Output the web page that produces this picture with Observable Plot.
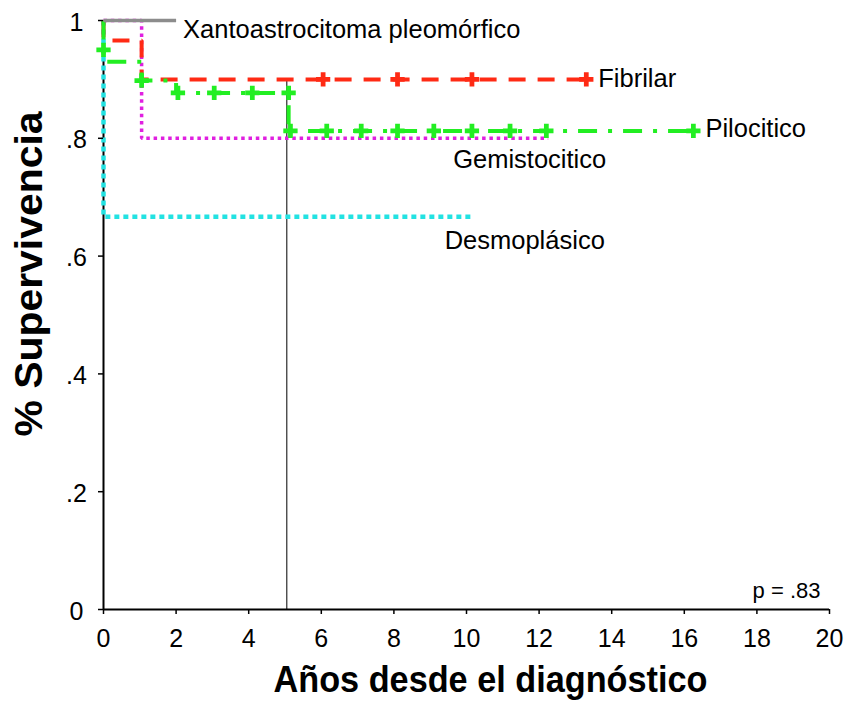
<!DOCTYPE html>
<html>
<head>
<meta charset="utf-8">
<script src="https://cdn.jsdelivr.net/npm/d3@7"></script>
<script src="https://cdn.jsdelivr.net/npm/@observablehq/plot@0.6"></script>
<style>
  html, body { margin: 0; padding: 0; background: #fff; }
  #chart { width: 852px; height: 702px; }
</style>
</head>
<body>
<div id="chart"></div>
<script>
// ---- Data ----
const seriesNames = ["Xantoastrocitoma pleomórfico", "Fibrilar", "Pilocitico", "Gemistocitico", "Desmoplásico"];

const xantoTime = [0, 2];
const xantoSurv = [1, 1];

const fibTime = [0, 0, 1.05, 13.3];
const fibSurv = [1, 0.966, 0.90, 0.90];
const fibCensTime = [6.05, 8.1, 10.15, 13.3];
const fibCensSurv = [0.90, 0.90, 0.90, 0.90];

const pilTime = [0, 0, 1.05, 2.0, 5.1, 16.25];
const pilSurv = [1, 0.93, 0.898, 0.877, 0.8125, 0.8125];
const pilCensTime = [0, 1.05, 2.05, 3.05, 4.1, 5.1, 5.15, 6.15, 7.1, 8.1, 9.1, 10.15, 11.2, 12.2, 16.25];
const pilCensSurv = [0.95, 0.898, 0.877, 0.877, 0.877, 0.877, 0.8125, 0.8125, 0.8125, 0.8125, 0.8125, 0.8125, 0.8125, 0.8125, 0.8125];

const gemTime = [0, 1.05, 12.25];
const gemSurv = [1, 0.8, 0.8];

const desTime = [0, 0, 10.17];
const desSurv = [1, 0.667, 0.667];

const refLineTime = [5.05];
const xTicks = [0, 2, 4, 6, 8, 10, 12, 14, 16, 18, 20];
const xTickLabels = ["0", "2", "4", "6", "8", "10", "12", "14", "16", "18", "20"];
const yTicks = [0, 0.2, 0.4, 0.6, 0.8, 1];
const yTickLabels = ["0", ".2", ".4", ".6", ".8", "1"];
const pValueText = "p = .83";
const xTitle = "Años desde el diagnóstico";
const yTitle = "% Supervivencia";

// ---- Build tables ----
const seriesData = [
  {name: seriesNames[4], t: desTime, s: desSurv, ct: [], cs: []},
  {name: seriesNames[3], t: gemTime, s: gemSurv, ct: [], cs: []},
  {name: seriesNames[1], t: fibTime, s: fibSurv, ct: fibCensTime, cs: fibCensSurv},
  {name: seriesNames[2], t: pilTime, s: pilSurv, ct: pilCensTime, cs: pilCensSurv},
  {name: seriesNames[0], t: xantoTime, s: xantoSurv, ct: [], cs: []}
];

// ---- Styles ----
const styles = {
  "Xantoastrocitoma pleomórfico": {color: "#8c8c8c", width: 3.5, dash: null, dx: 7, dy: 9, anchor: "start"},
  "Fibrilar": {color: "#ff2a14", width: 4, dash: "17,12", dx: 12, dy: -1, anchor: "start"},
  "Pilocitico": {color: "#22ee22", width: 4, dash: "19,11,4,11", dx: 12, dy: -2, anchor: "start"},
  "Gemistocitico": {color: "#e020e0", width: 3.5, dash: "3.5,3.8", dx: -95, dy: 22, anchor: "start"},
  "Desmoplásico": {color: "#22e2e2", width: 4.5, dash: "5,4", dx: -28, dy: 24, anchor: "start"}
};

const font = "'Liberation Sans', Arial, Helvetica, sans-serif";
const marks = [];

// axes lines
marks.push(Plot.ruleY([0], {stroke: "#000", strokeWidth: 2}));
marks.push(Plot.ruleX([0], {stroke: "#000", strokeWidth: 2}));

// reference line at 5 years
marks.push(Plot.ruleX(refLineTime, {y1: 0, y2: fibSurv[fibSurv.length - 1], stroke: "#000", strokeWidth: 1}));

for (const sd of seriesData) {
  const st = styles[sd.name];
  const rows = sd.t.map((t, i) => ({t, s: sd.s[i]}));
  marks.push(Plot.line(rows, {
    x: "t", y: "s", curve: "step-after",
    stroke: st.color, strokeWidth: st.width,
    strokeDasharray: st.dash || undefined,
    strokeLinecap: "butt", strokeLinejoin: "miter"
  }));
  if (sd.ct.length) {
    const cens = sd.ct.map((t, i) => ({t, s: sd.cs[i]}));
    marks.push(Plot.dot(cens, {x: "t", y: "s", symbol: "cross", r: 6, fill: st.color, stroke: "none"}));
  }
}

// series labels at the end of each curve
for (const sd of seriesData) {
  const st = styles[sd.name];
  const last = {t: sd.t[sd.t.length - 1], s: sd.s[sd.s.length - 1], name: sd.name};
  marks.push(Plot.text([last], {
    x: "t", y: "s", text: "name", dx: st.dx, dy: st.dy, textAnchor: st.anchor,
    fontSize: 25.5, fill: "#000", fontFamily: font
  }));
}

// p value
marks.push(Plot.text([pValueText], {
  frameAnchor: "bottom-right", dx: -9, dy: -19, textAnchor: "end", lineAnchor: "middle",
  fontSize: 22, fill: "#000", fontFamily: font
}));

// axis titles
marks.push(Plot.text([xTitle], {
  frameAnchor: "bottom", dx: 24, dy: 71, textAnchor: "middle", lineAnchor: "middle",
  fontSize: 37, fontWeight: "bold", fill: "#000", fontFamily: font
}));
marks.push(Plot.text([yTitle], {
  frameAnchor: "left", dx: -74, dy: -41, rotate: -90, textAnchor: "middle", lineAnchor: "middle",
  fontSize: 38, fontWeight: "bold", fill: "#000", fontFamily: font
}));

// axes: tick marks
marks.push(Plot.axisX(xTicks, {tickSize: 5, tickFormat: () => "", label: null, stroke: "#000", strokeWidth: 1.5}));
marks.push(Plot.axisY(yTicks, {tickSize: 5, tickFormat: () => "", label: null, stroke: "#000", strokeWidth: 1.5}));

// axes: tick labels
marks.push(Plot.text(xTicks, {
  x: d => d, text: (d, i) => xTickLabels[i], frameAnchor: "bottom", dy: 29,
  textAnchor: "middle", lineAnchor: "middle", fontSize: 25, fill: "#000", fontFamily: font
}));
marks.push(Plot.text(yTicks, {
  y: d => d, text: (d, i) => yTickLabels[i], frameAnchor: "left", dx: -27, dy: 2,
  textAnchor: "middle", lineAnchor: "middle", fontSize: 25, fill: "#000", fontFamily: font
}));

const chart = Plot.plot({
  width: 852,
  height: 702,
  marginLeft: 103,
  marginRight: 23,
  marginTop: 20,
  marginBottom: 93,
  x: {domain: [0, 20]},
  y: {domain: [0, 1]},
  style: {fontFamily: font, fontSize: "25px", color: "#000", background: "#fff", overflow: "visible"},
  marks
});

document.getElementById("chart").appendChild(chart);

// fit axis title lengths to the reference's proportions
d3.select(chart).selectAll("text")
  .filter(function() { return this.textContent === xTitle; })
  .attr("textLength", 434).attr("lengthAdjust", "spacingAndGlyphs");
d3.select(chart).selectAll("text")
  .filter(function() { return this.textContent === yTitle; })
  .attr("textLength", 325).attr("lengthAdjust", "spacingAndGlyphs");
</script>
</body>
</html>
